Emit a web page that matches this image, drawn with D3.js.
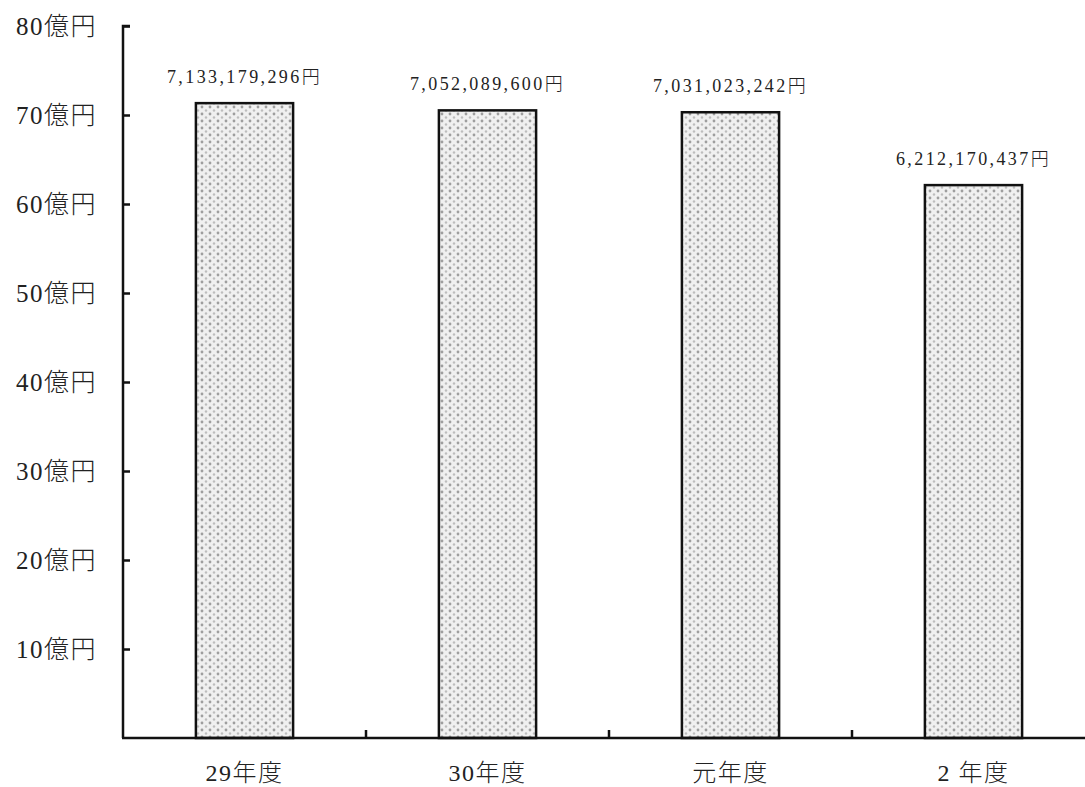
<!DOCTYPE html>
<html>
<head>
<meta charset="utf-8">
<script src="https://cdn.jsdelivr.net/npm/d3@7"></script>
<style>
  html, body { margin: 0; padding: 0; background: #fff; }
  svg { display: block; }
  .num { font-family: "Liberation Serif", "Times New Roman", Times, "DejaVu Serif", serif; }
  .cjk { font-family: "Noto Sans CJK JP", "Noto Sans CJK SC", sans-serif; font-weight: 300; }
</style>
</head>
<body>
<svg id="chart" width="1085" height="787"></svg>
<script>
// Fiscal years and totals (yen)
const categories = ["29年度", "30年度", "元年度", "2 年度"];
const amounts = [7133179296, 7052089600, 7031023242, 6212170437];
const valueLabels = ["7,133,179,296円", "7,052,089,600円", "7,031,023,242円", "6,212,170,437円"];
const yTicks = [10, 20, 30, 40, 50, 60, 70, 80];
const yTickLabels = ["10億円", "20億円", "30億円", "40億円", "50億円", "60億円", "70億円", "80億円"];

const svg = d3.select("#chart");
const margin = { left: 123, top: 26, bottom: 738 };

const x = d3.scaleBand().domain(categories).range([margin.left, margin.left + 243 * 4]);
const y = d3.scaleLinear().domain([0, 80]).range([margin.bottom, margin.top]);

// split a label into digit runs and CJK runs so each uses its own font
function setLabel(sel, str) {
  const parts = str.match(/[\x00-\x7F]+|[^\x00-\x7F]+/g);
  sel.selectAll("tspan").data(parts).join("tspan")
    .attr("class", d => /[\x00-\x7F]/.test(d[0]) ? "num" : "cjk")
    .attr("xml:space", "preserve")
    .text(d => d);
}

// dotted fill for the bars
const defs = svg.append("defs");
const pat = defs.append("pattern")
  .attr("id", "dots").attr("patternUnits", "userSpaceOnUse")
  .attr("width", 8).attr("height", 7);
pat.append("rect").attr("width", 8).attr("height", 7).attr("fill", "#f0f0f0");
pat.append("circle").attr("cx", 2).attr("cy", 2).attr("r", 1.4).attr("fill", "#9e9e9e");
pat.append("circle").attr("cx", 6).attr("cy", 5.5).attr("r", 1.2).attr("fill", "#bdbdbd");

const barW = x.bandwidth() * 0.4;

// bars
svg.append("g").selectAll("rect").data(amounts).join("rect")
  .attr("x", (d, i) => x(categories[i]) + x.bandwidth() / 2 - barW / 2)
  .attr("y", d => y(d / 1e8))
  .attr("width", barW)
  .attr("height", d => y(0) - y(d / 1e8))
  .attr("fill", "url(#dots)")
  .attr("stroke", "#111").attr("stroke-width", 2.5);

// value labels
svg.append("g").selectAll("text").data(amounts).join("text")
  .attr("x", (d, i) => x(categories[i]) + x.bandwidth() / 2)
  .attr("y", d => y(d / 1e8) - 20)
  .attr("text-anchor", "middle")
  .attr("font-size", 18)
  .attr("letter-spacing", 2.4)
  .attr("fill", "#222")
  .each(function (d, i) { setLabel(d3.select(this), valueLabels[i]); });

// y axis
const yAxis = d3.axisRight(y).tickValues(yTicks).tickSize(7).tickFormat("");
const gy = svg.append("g").attr("transform", `translate(${margin.left},0)`).call(yAxis);
gy.select(".domain").attr("d", `M7,${y(80)}H0V${y(0)}`);
gy.selectAll("path, line").attr("stroke", "#111").attr("stroke-width", 2.5);

svg.append("g").selectAll("text").data(yTicks).join("text")
  .attr("x", 97)
  .attr("y", d => y(d))
  .attr("dy", "0.35em")
  .attr("text-anchor", "end")
  .attr("font-size", 25)
  .attr("letter-spacing", 1.5)
  .attr("fill", "#222")
  .each(function (d, i) { setLabel(d3.select(this), yTickLabels[i]); });

// x axis with boundary ticks between categories
const gx = svg.append("g").attr("transform", `translate(0,${y(0)})`);
gx.append("line")
  .attr("x1", margin.left - 1).attr("x2", x.range()[1])
  .attr("stroke", "#111").attr("stroke-width", 2.5);
gx.selectAll("line.tick").data(categories.slice(1)).join("line")
  .attr("class", "tick")
  .attr("x1", d => x(d)).attr("x2", d => x(d))
  .attr("y1", 0).attr("y2", -8)
  .attr("stroke", "#111").attr("stroke-width", 2.5);

svg.append("g").selectAll("text").data(categories).join("text")
  .attr("x", d => x(d) + x.bandwidth() / 2)
  .attr("y", 773)
  .attr("dy", "0.35em")
  .attr("text-anchor", "middle")
  .attr("font-size", 24)
  .attr("letter-spacing", 1.5)
  .attr("fill", "#222")
  .each(function (d) { setLabel(d3.select(this), d); });
</script>
</body>
</html>
